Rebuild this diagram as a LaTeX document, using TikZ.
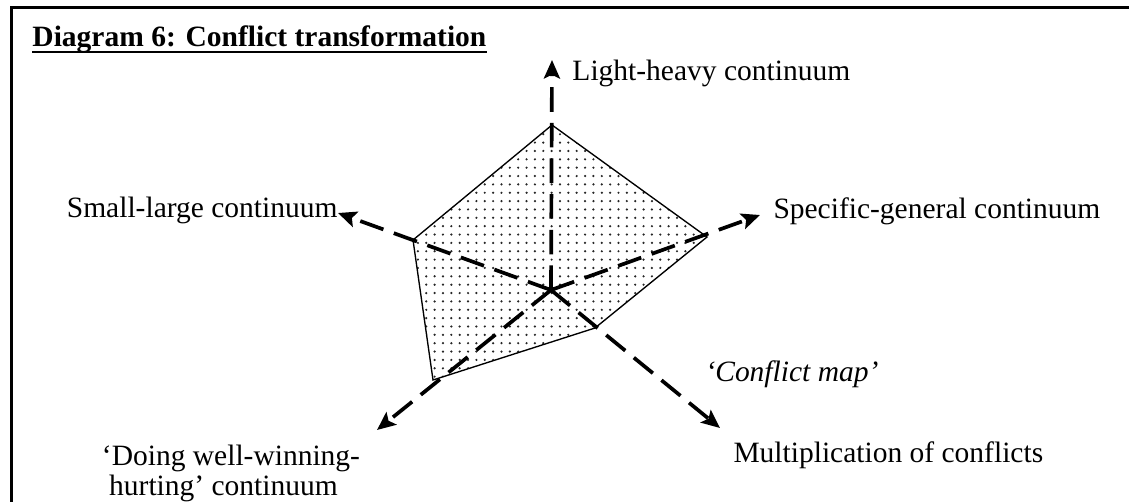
\documentclass[tikz,border=0pt]{standalone}
\usepackage{fontspec}
\setmainfont{Liberation Serif}
\usetikzlibrary{arrows.meta,patterns.meta}

\tikzset{
  axis/.style={line width=1.5pt, dash pattern=on 10pt off 4.5pt, -{Stealth[length=7.5pt,width=6.5pt,inset=1.5pt]}},
  label/.style={inner sep=0pt, anchor=base west},
  map/.style={line width=0.55pt}
}

\begin{document}
\begin{tikzpicture}[x=0.4068pt, y=-0.4068pt, font=\fontsize{12pt}{14pt}\selectfont]

\useasboundingbox (0,0) rectangle (1129,502);

% Frame round the diagram
\draw[line width=1pt] (11.7,502) -- (11.7,7.3) -- (1129,7.3);

% Title
\node[label] (title) at (32,47) {\textbf{Diagram 6: Conflict transformation}};
\draw[line width=0.9pt] ([yshift=-2pt]title.base west) -- ([yshift=-2pt]title.base east); % underline

% Centre and arrow tips of the five continua
\coordinate (o) at (551,290);
\coordinate (tn) at (552,60);
\coordinate (tne) at (760,215);
\coordinate (tnw) at (338,213);
\coordinate (tsw) at (377,430);
\coordinate (tse) at (720,428);

% Corners of the conflict map
\coordinate (v1) at (552,125);
\coordinate (v2) at (707,237);
\coordinate (v3) at (595,328);
\coordinate (v4) at (433,380);
\coordinate (v5) at (413,240);

% Shaded map
\fill[pattern={Dots[distance=3.4pt,radius=0.5pt]}, pattern color=black!85] (v1) -- (v2) -- (v3) -- (v4) -- (v5) -- cycle;

% The five dashed axes
\draw[axis] (o) -- (tn);
\draw[axis] (o) -- (tne);
\draw[axis] (o) -- (tnw);
\draw[axis] (o) -- (tsw);
\draw[axis] (o) -- (tse);

% Outline of the map
\draw[map] (v1) -- (v2) -- (v3) -- (v4) -- (v5) -- cycle;

% Labels of the axes
\node[label] (light) at (572,80) {Light-heavy continuum};
\node[label] (specific) at (773,218) {Specific-general continuum};
\node[label, anchor=base east] (small) at (338,217) {Small-large continuum};
\node[label] (multi) at (733,462) {Multiplication of conflicts};
\node[label, anchor=base] (doing) at (231,465) {‘Doing well-winning-};
\node[label, anchor=base] (hurting) at (223.5,495) {hurting’ continuum};

% Name of the shaded area
\node[label] (mapname) at (705,381) {\itshape ‘Conflict map’};

\end{tikzpicture}
\end{document}
